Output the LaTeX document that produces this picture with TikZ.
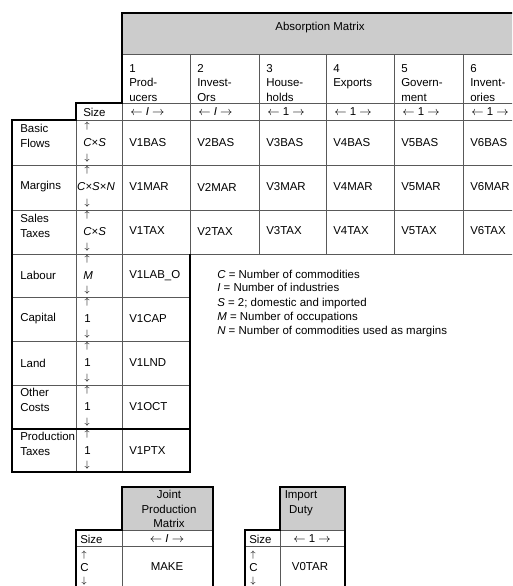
\documentclass[tikz,border=0pt]{standalone}
\usepackage{fontspec}
\setmainfont{Liberation Sans}
\usepackage{amsmath}

\begin{document}
\begin{tikzpicture}[x=0.75pt,y=0.75pt,yscale=-1,xscale=1,
  txt/.style={inner sep=0pt, font=\fontsize{8.6}{10.9}\selectfont},
  lft/.style={txt, anchor=west},
  mid/.style={txt, anchor=center},
  arr/.style={inner sep=0pt, anchor=center, font=\fontsize{6.8}{8}\selectfont},
  hd/.style={txt, anchor=north west, align=left},
  lbl/.style={txt, anchor=north west, align=left},
  thinline/.style={draw=black!65, line width=0.6pt},
  thickline/.style={draw=black, line width=1.6pt},
  hdfill/.style={fill=black!20, draw=none}]
\useasboundingbox (0,0) rectangle (512,586);
\clip (0,0) rectangle (512,586);

%Shape: Rectangle [header absorption]
\path [hdfill] (122,13) rectangle (540,54);
%Shape: Rectangle [header joint]
\path [hdfill] (122,487) rectangle (213,530);
%Shape: Rectangle [header import]
\path [hdfill] (280,487) rectangle (345,530);

%Straight Lines [grid, absorption]
\draw [thinline] (122,54) -- (540,54) ;
\draw [thinline] (122,103) -- (540,103) ;
\draw [thinline] (76,120) -- (540,120) ;
\draw [thinline] (12,165) -- (540,165) ;
\draw [thinline] (12,210) -- (540,210) ;
\draw [thinline] (12,254) -- (540,254) ;
\draw [thinline] (12,297) -- (190,297) ;
\draw [thinline] (12,341) -- (190,341) ;
\draw [thinline] (12,385) -- (190,385) ;
\draw [thinline] (76,120) -- (76,472) ;
\draw [thinline] (122,103) -- (122,472) ;
\draw [thinline] (190,54) -- (190,254) ;
\draw [thinline] (259,54) -- (259,254) ;
\draw [thinline] (326,54) -- (326,254) ;
\draw [thinline] (394,54) -- (394,254) ;
\draw [thinline] (463,54) -- (463,254) ;

%Straight Lines [outline, absorption]
\draw [thickline] (540,13) -- (122,13) -- (122,103) -- (76,103) -- (76,120) -- (12,120) -- (12,472) -- (190,472) -- (190,254) ;
\draw [thickline] (12,429) -- (190,429) ;

%Straight Lines [joint production]
\draw [thinline] (122,530) -- (213,530) ;
\draw [thinline] (76,546) -- (213,546) ;
\draw [thinline] (122,530) -- (122,600) ;
\draw [thickline] (76,600) -- (76,530) -- (122,530) -- (122,487) -- (213,487) -- (213,600) ;

%Straight Lines [import duty]
\draw [thinline] (280,530) -- (345,530) ;
\draw [thinline] (245,546) -- (345,546) ;
\draw [thinline] (280,530) -- (280,600) ;
\draw [thickline] (245,600) -- (245,530) -- (280,530) -- (280,487) -- (345,487) -- (345,600) ;

% Text Node
\draw (320,28) node [mid] (absorb) {Absorption Matrix};
% Text Node
\draw (129,64) node [hd] (head1) {1\\Prod-\\ucers};
\draw (197,64) node [hd] (head2) {2\\Invest-\\Ors};
\draw (266,64) node [hd] (head3) {3\\House-\\holds};
\draw (333,64) node [hd] (head4) {4\\Exports};
\draw (401,64) node [hd] (head5) {5\\Govern-\\ment};
\draw (470,64) node [hd] (head6) {6\\Invent-\\ories};

% Text Node
\draw (83,112) node [lft] (size) {Size};
\draw (130,112) node [lft] (dim1) {$\leftarrow$ \textit{I} $\rightarrow$};
\draw (198,112) node [lft] (dim2) {$\leftarrow$ \textit{I} $\rightarrow$};
\draw (267,112) node [lft] (dim3) {$\leftarrow$ 1 $\rightarrow$};
\draw (334,112) node [lft] (dim4) {$\leftarrow$ 1 $\rightarrow$};
\draw (402,112) node [lft] (dim5) {$\leftarrow$ 1 $\rightarrow$};
\draw (471,112) node [lft] (dim6) {$\leftarrow$ 1 $\rightarrow$};

% Text Node [row labels]
\draw (20,124) node [lbl] (basic) {Basic\\Flows};
\draw (20,187) node [lft] (margins) {Margins};
\draw (20,214) node [lbl] (sales) {Sales\\Taxes};
\draw (20,275) node [lft] (labour) {Labour};
\draw (20,319) node [lft] (capital) {Capital};
\draw (20,363) node [lft] (land) {Land};
\draw (20,388) node [lbl] (other) {Other\\Costs};
\draw (20,432) node [lbl] (prodtax) {Production\\Taxes};

% Text Node [size column]
\draw (87,126) node [arr] (upBAS) {$\uparrow$};
\draw (83,143) node [lft] (szBAS) {\textit{C}×\textit{S}};
\draw (87,158) node [arr] (dnBAS) {$\downarrow$};
\draw (87,170) node [arr] (upMAR) {$\uparrow$};
\draw (96,187) node [mid] (szMAR) {\textit{C}×\textit{S}×\textit{N}};
\draw (87,203) node [arr] (dnMAR) {$\downarrow$};
\draw (87,215) node [arr] (upTAX) {$\uparrow$};
\draw (83,232) node [lft] (szTAX) {\textit{C}×\textit{S}};
\draw (87,247) node [arr] (dnTAX) {$\downarrow$};
\draw (87,259) node [arr] (upLAB) {$\uparrow$};
\draw (83,276) node [lft] (szLAB) {\textit{M}};
\draw (87,290) node [arr] (dnLAB) {$\downarrow$};
\draw (87,302) node [arr] (upCAP) {$\uparrow$};
\draw (84,319) node [lft] (szCAP) {1};
\draw (87,334) node [arr] (dnCAP) {$\downarrow$};
\draw (87,346) node [arr] (upLND) {$\uparrow$};
\draw (84,363) node [lft] (szLND) {1};
\draw (87,378) node [arr] (dnLND) {$\downarrow$};
\draw (87,390) node [arr] (upOCT) {$\uparrow$};
\draw (84,407) node [lft] (szOCT) {1};
\draw (87,422) node [arr] (dnOCT) {$\downarrow$};
\draw (87,434) node [arr] (upPTX) {$\uparrow$};
\draw (84,451) node [lft] (szPTX) {1};
\draw (87,465) node [arr] (dnPTX) {$\downarrow$};

% Text Node [basic flows]
\draw (129,143) node [lft] (vbas1) {V1BAS};
\draw (197,143) node [lft] (vbas2) {V2BAS};
\draw (266,143) node [lft] (vbas3) {V3BAS};
\draw (333,143) node [lft] (vbas4) {V4BAS};
\draw (401,143) node [lft] (vbas5) {V5BAS};
\draw (470,143) node [lft] (vbas6) {V6BAS};
% Text Node [margins]
\draw (129,187) node [lft] (vmar1) {V1MAR};
\draw (197,187) node [lft] (vmar2) {V2MAR};
\draw (266,187) node [lft] (vmar3) {V3MAR};
\draw (333,187) node [lft] (vmar4) {V4MAR};
\draw (401,187) node [lft] (vmar5) {V5MAR};
\draw (470,187) node [lft] (vmar6) {V6MAR};
% Text Node [sales taxes]
\draw (129,231) node [lft] (vtax1) {V1TAX};
\draw (197,231) node [lft] (vtax2) {V2TAX};
\draw (266,231) node [lft] (vtax3) {V3TAX};
\draw (333,231) node [lft] (vtax4) {V4TAX};
\draw (401,231) node [lft] (vtax5) {V5TAX};
\draw (470,231) node [lft] (vtax6) {V6TAX};
% Text Node [primary factors]
\draw (129,276) node [lft] (vlab) {V1LAB\_O};
\draw (129,319) node [lft] (vcap) {V1CAP};
\draw (129,363) node [lft] (vlnd) {V1LND};
\draw (129,407) node [lft] (voct) {V1OCT};
\draw (129,451) node [lft] (vptx) {V1PTX};

% Text Node [legend]
\draw (217,334) node [txt, anchor=base west, align=left, font=\fontsize{8.6}{10.2}\selectfont] (legend) {\textit{C} = Number of commodities\\
\textit{I} = Number of industries\\[1.1pt]
\textit{S} = 2; domestic and imported\\
\textit{M} = Number of occupations\\
\textit{N} = Number of commodities used as margins};

% Text Node [joint production]
\draw (169,509) node [txt, align=center] (joint) {Joint\\Production\\Matrix};
\draw (80,539) node [lft] (sizeJ) {Size};
\draw (167,539) node [mid] (dimJ) {$\leftarrow$ \textit{I} $\rightarrow$};
\draw (84,555) node [arr] (upJ) {$\uparrow$};
\draw (80,568) node [lft] (szJ) {C};
\draw (84,581) node [arr] (dnJ) {$\downarrow$};
\draw (167,567) node [mid] (make) {MAKE};

% Text Node [import duty]
\draw (301,503) node [txt, align=center] (duty) {Import\\Duty};
\draw (249,539) node [lft] (sizeD) {Size};
\draw (312,539) node [mid] (dimD) {$\leftarrow$ 1 $\rightarrow$};
\draw (253,555) node [arr] (upD) {$\uparrow$};
\draw (249,568) node [lft] (szD) {C};
\draw (253,581) node [arr] (dnD) {$\downarrow$};
\draw (310,567) node [mid] (votar) {V0TAR};

\end{tikzpicture}
\end{document}
